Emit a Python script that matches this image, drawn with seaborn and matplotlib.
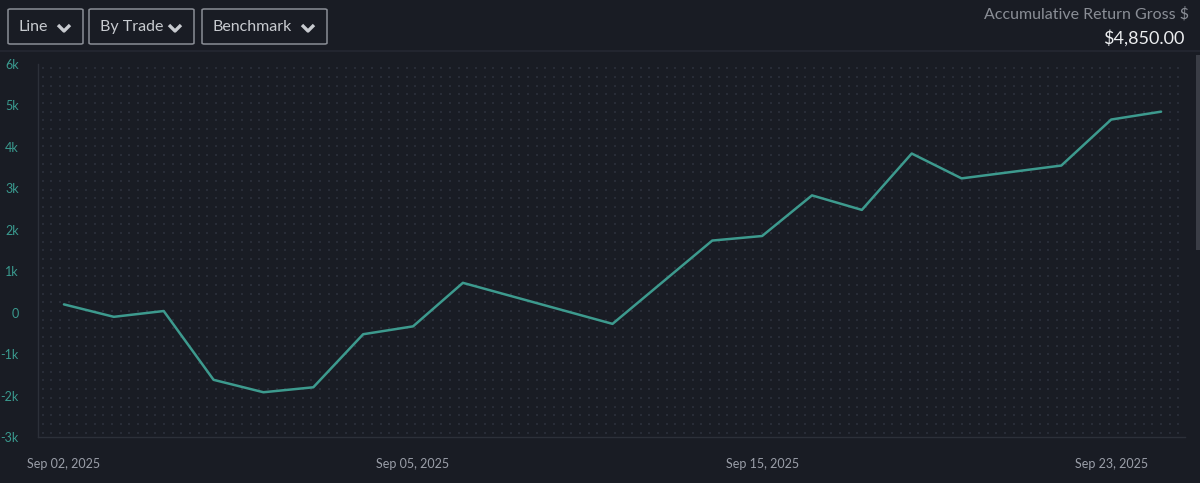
import numpy as np
import pandas as pd
import matplotlib.pyplot as plt
import seaborn as sns
from matplotlib.lines import Line2D
from matplotlib.patches import Rectangle, FancyBboxPatch

# --- Data: cumulative gross return by trade ---
trade_idx = [0, 1, 2, 3, 4, 5, 6, 7, 8, 11, 13, 14, 15, 16, 17, 18, 20, 21, 22]
cum_return = [200, -100, 40, -1620, -1920, -1800, -520, -330, 720, -270,
              1740, 1850, 2830, 2480, 3840, 3240, 3550, 4660, 4850]
xtick_pos = [0, 7, 14, 21]
xtick_labels = ['Sep 02, 2025', 'Sep 05, 2025', 'Sep 15, 2025', 'Sep 23, 2025']
ytick_vals = [-3000, -2000, -1000, 0, 1000, 2000, 3000, 4000, 5000, 6000]
ytick_labels = ['-3k', '-2k', '-1k', '0', '1k', '2k', '3k', '4k', '5k', '6k']

df = pd.DataFrame({'trade': trade_idx, 'ret': cum_return})

# --- Styling ---
BG = '#191c24'
sns.set_theme(style='dark')
plt.rcParams['font.family'] = ['Lato', 'DejaVu Sans']

fig = plt.figure(figsize=(12, 4.83), dpi=100, facecolor=BG)
ax = fig.add_axes([0.0317, 0.0952, 0.9558, 0.7723])
ax.set_facecolor(BG)

# dotted background grid
gx = np.arange(4.5, 1147, 8.67) / 1147
gy = np.arange(4.5, 373, 8.67) / 373
GX, GY = np.meshgrid(gx, gy)
ax.scatter(GX.ravel(), GY.ravel(), s=1.0, color='#282c37', marker='s',
           linewidths=0, transform=ax.transAxes, zorder=0)

sns.lineplot(data=df, x='trade', y='ret', ax=ax, color='#3d9a8e', linewidth=1.8, zorder=3)

ax.set_xlim(-0.52, 22.48)
ax.set_ylim(-3000, 6000)
ax.set_xticks(xtick_pos)
ax.set_xticklabels(xtick_labels, color='#9a9ea8', fontsize=9)
ax.set_yticks(ytick_vals)
ax.set_yticklabels(ytick_labels, color='#3a9a8f', fontsize=9)
ax.tick_params(axis='x', length=0, pad=15)
ax.tick_params(axis='y', length=0, pad=14)
ax.set_xlabel('')
ax.set_ylabel('')
ax.grid(False)
for side in ['top', 'right']:
    ax.spines[side].set_visible(False)
for side in ['left', 'bottom']:
    ax.spines[side].set_color('#2c3039')
    ax.spines[side].set_linewidth(1)

# --- Header controls ---
W, H = 1200, 483


def px(x, y):
    return x / W, 1 - y / H


fig.add_artist(Line2D([0, 1], [1 - 51 / H] * 2, color='#242832', lw=1.2))
fig.add_artist(Rectangle(px(1196, 250), 4 / W, 195 / H, color='#3a3d46', lw=0))

buttons = [('Line', 8, 83), ('By Trade', 89, 194), ('Benchmark', 202, 327)]
for label, x0, x1 in buttons:
    fig.add_artist(FancyBboxPatch(px(x0, 44), (x1 - x0) / W, 35 / H,
                                  boxstyle='round,pad=0,rounding_size=0.002',
                                  fc='none', ec='#8a8e96', lw=1.1))
    fig.text(*px(x0 + 11, 27), label, color='#c8cbd0', fontsize=11.5, va='center', ha='left')
    cx = x1 - 19
    fig.add_artist(Line2D([(cx - 6) / W, cx / W, (cx + 6) / W],
                          [1 - 25 / H, 1 - 31 / H, 1 - 25 / H],
                          color='#c8cbd0', lw=2.4, solid_capstyle='butt'))

fig.text(*px(1189, 14), 'Accumulative Return Gross $', color='#8a8e96',
         fontsize=11.5, ha='right', va='center')
fig.text(*px(1184, 38), '$4,850.00', color='#eceef0', fontsize=13,
         ha='right', va='center')

plt.savefig('out.png', dpi=100, facecolor=BG)
